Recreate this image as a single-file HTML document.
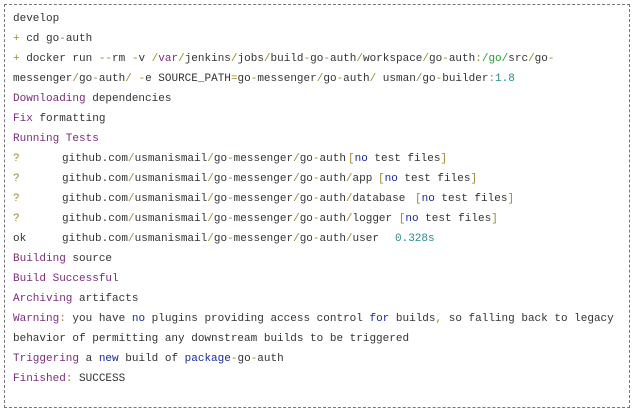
<!DOCTYPE html>
<html><head><meta charset="utf-8"><style>
body{margin:0;width:635px;height:414px;background:#fff;overflow:hidden}
.box{position:absolute;left:4px;top:4px;width:624px;height:402px;border:1px dashed #777}
.l{position:absolute;left:13px;font:11px "Liberation Mono",monospace;color:#333;white-space:pre;line-height:14px}
.a{position:absolute;font:11px "Liberation Mono",monospace;color:#333;white-space:pre;line-height:14px}
.p{color:#7b2d7b}.o{color:#9a8a2a}.g{color:#2a9a3a}.t{color:#2a8a8a}.b{color:#1a2a9a}
</style></head><body>
<div class="box"></div>
<div class="l" style="top:12px">develop</div>
<div class="l" style="top:32px"><span class="o">+</span> cd go<span class="o">-</span>auth</div>
<div class="l" style="top:52px"><span class="o">+</span> docker run <span class="o">--</span>rm <span class="o">-</span>v <span class="o">/</span><span class="p">var</span><span class="o">/</span>jenkins<span class="o">/</span>jobs<span class="o">/</span>build<span class="o">-</span>go<span class="o">-</span>auth<span class="o">/</span>workspace<span class="o">/</span>go<span class="o">-</span>auth<span class="o">:</span><span class="g">/go/</span>src<span class="o">/</span>go<span class="o">-</span></div>
<div class="l" style="top:72px">messenger<span class="o">/</span>go<span class="o">-</span>auth<span class="o">/</span> <span class="o">-</span>e SOURCE_PATH<span class="o">=</span>go<span class="o">-</span>messenger<span class="o">/</span>go<span class="o">-</span>auth<span class="o">/</span> usman<span class="o">/</span>go<span class="o">-</span>builder<span class="o">:</span><span class="t">1.8</span></div>
<div class="l" style="top:92px"><span class="p">Downloading</span> dependencies</div>
<div class="l" style="top:112px"><span class="p">Fix</span> formatting</div>
<div class="l p" style="top:132px">Running Tests</div>
<div class="l o" style="top:152px">?</div><div class="a" style="left:62px;top:152px">github.com<span class="o">/</span>usmanismail<span class="o">/</span>go<span class="o">-</span>messenger<span class="o">/</span>go<span class="o">-</span>auth</div><div class="a" style="left:348px;top:152px"><span class="o">[</span><span class="b">no</span> test files<span class="o">]</span></div>
<div class="l o" style="top:172px">?</div><div class="a" style="left:62px;top:172px">github.com<span class="o">/</span>usmanismail<span class="o">/</span>go<span class="o">-</span>messenger<span class="o">/</span>go<span class="o">-</span>auth<span class="o">/</span>app</div><div class="a" style="left:378px;top:172px"><span class="o">[</span><span class="b">no</span> test files<span class="o">]</span></div>
<div class="l o" style="top:192px">?</div><div class="a" style="left:62px;top:192px">github.com<span class="o">/</span>usmanismail<span class="o">/</span>go<span class="o">-</span>messenger<span class="o">/</span>go<span class="o">-</span>auth<span class="o">/</span>database</div><div class="a" style="left:415px;top:192px"><span class="o">[</span><span class="b">no</span> test files<span class="o">]</span></div>
<div class="l o" style="top:212px">?</div><div class="a" style="left:62px;top:212px">github.com<span class="o">/</span>usmanismail<span class="o">/</span>go<span class="o">-</span>messenger<span class="o">/</span>go<span class="o">-</span>auth<span class="o">/</span>logger <span class="o">[</span><span class="b">no</span> test files<span class="o">]</span></div>
<div class="l" style="top:232px">ok</div><div class="a" style="left:62px;top:232px">github.com<span class="o">/</span>usmanismail<span class="o">/</span>go<span class="o">-</span>messenger<span class="o">/</span>go<span class="o">-</span>auth<span class="o">/</span>user</div><div class="a t" style="left:395px;top:232px">0.328s</div>
<div class="l" style="top:252px"><span class="p">Building</span> source</div>
<div class="l p" style="top:272px">Build Successful</div>
<div class="l" style="top:292px"><span class="p">Archiving</span> artifacts</div>
<div class="l" style="top:312px"><span class="p">Warning</span><span class="o">:</span> you have <span class="b">no</span> plugins providing access control <span class="b">for</span> builds<span class="o">,</span> so falling back to legacy</div>
<div class="l" style="top:332px">behavior of permitting any downstream builds to be triggered</div>
<div class="l" style="top:352px"><span class="p">Triggering</span> a <span class="b">new</span> build of <span class="b">package</span><span class="o">-</span>go<span class="o">-</span>auth</div>
<div class="l" style="top:372px"><span class="p">Finished</span><span class="o">:</span> SUCCESS</div>
</body></html>
